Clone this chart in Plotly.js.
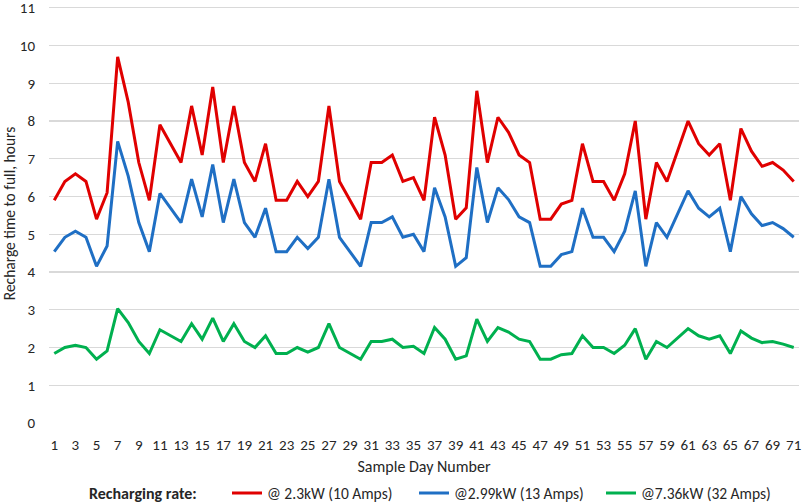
<!DOCTYPE html>
<html>
<head>
<meta charset="utf-8">
<script src="https://cdn.plot.ly/plotly-3.0.1.min.js"></script>
<style>
html,body{margin:0;padding:0;background:#fff;}
#chart{width:803px;height:503px;}
</style>
</head>
<body>
<div id="chart"></div>
<script>
const days = Array.from({length: 71}, (_, i) => i + 1);
const tickLabels = days.filter(d => d % 2 === 1);

const legendTitle = 'Recharging rate:';
const seriesNames = ['@ 2.3kW (10 Amps)', '@2.99kW (13 Amps)', '@7.36kW (32 Amps)'];
const seriesColors = ['#E00000', '#1F6FC4', '#00B04F'];

const rate10A = [5.9,6.4,6.6,6.4,5.4,6.1,9.7,8.5,6.9,5.9,
  7.9,7.4,6.9,8.4,7.1,8.9,6.9,8.4,6.9,6.4,
  7.4,5.9,5.9,6.4,6.0,6.4,8.4,6.4,5.9,5.4,
  6.9,6.9,7.1,6.4,6.5,5.9,8.1,7.1,5.4,5.7,
  8.8,6.9,8.1,7.7,7.1,6.9,5.4,5.4,5.8,5.9,
  7.4,6.4,6.4,5.9,6.6,8.0,5.4,6.9,6.4,7.2,
  8.0,7.4,7.1,7.4,5.9,7.8,7.2,6.8,6.9,6.7,
  6.4];

const rate13A = [4.54,4.92,5.08,4.92,4.15,4.69,7.46,6.54,5.31,4.54,
  6.08,5.69,5.31,6.46,5.46,6.85,5.31,6.46,5.31,4.92,
  5.69,4.54,4.54,4.92,4.62,4.92,6.46,4.92,4.54,4.15,
  5.31,5.31,5.46,4.92,5.00,4.54,6.23,5.46,4.15,4.38,
  6.77,5.31,6.23,5.92,5.46,5.31,4.15,4.15,4.46,4.54,
  5.69,4.92,4.92,4.54,5.08,6.15,4.15,5.31,4.92,5.54,
  6.15,5.69,5.46,5.69,4.54,6.00,5.54,5.23,5.31,5.15,
  4.92];

const rate32A = [1.84,2.00,2.06,2.00,1.69,1.91,3.03,2.66,2.16,1.84,
  2.47,2.31,2.16,2.63,2.22,2.78,2.16,2.63,2.16,2.00,
  2.31,1.84,1.84,2.00,1.88,2.00,2.63,2.00,1.84,1.69,
  2.16,2.16,2.22,2.00,2.03,1.84,2.53,2.22,1.69,1.78,
  2.75,2.16,2.53,2.41,2.22,2.16,1.69,1.69,1.81,1.84,
  2.31,2.00,2.00,1.84,2.06,2.50,1.69,2.16,2.00,2.25,
  2.50,2.31,2.22,2.31,1.84,2.44,2.25,2.13,2.16,2.09,
  2.00];

const yTicks = [0,1,2,3,4,5,6,7,8,9,10,11];

const FONT = "Carlito, Calibri, Lato, sans-serif";
const TXT = '#262626';
const allSeries = [rate10A, rate13A, rate32A];

const traces = allSeries.map((vals, i) => ({
  x: days,
  y: vals,
  type: 'scatter',
  mode: 'lines',
  name: seriesNames[i],
  line: {color: seriesColors[i], width: 3}
}));

const W = 803, H = 503;
const M = {l: 49, r: 4, t: 4.2, b: 80.3, autoexpand: false};
const plotW = W - M.l - M.r, plotH = H - M.t - M.b;
const px2paperX = px => (px - M.l) / plotW;
const px2paperY = py => (H - M.b - py) / plotH;

const layout = {
  width: W,
  height: H,
  margin: M,
  paper_bgcolor: '#fff',
  plot_bgcolor: '#fff',
  font: {family: FONT, color: TXT, size: 15},
  showlegend: true,
  xaxis: {
    range: [0.5, 71.5],
    tickmode: 'array',
    tickvals: tickLabels,
    ticktext: tickLabels.map(String),
    showgrid: false,
    zeroline: false,
    showline: false,
    ticks: '',
    ticklabelstandoff: 11,
    tickfont: {family: FONT, size: 15, color: TXT},
    title: {text: 'Sample Day Number', font: {family: FONT, size: 16, color: TXT}, standoff: 7},
    fixedrange: true
  },
  yaxis: {
    range: [0, 11.1],
    tickmode: 'array',
    tickvals: yTicks,
    ticktext: yTicks.map(String),
    showgrid: true,
    gridcolor: '#D9D9D9',
    gridwidth: 1.4,
    zeroline: false,
    showline: false,
    ticks: '',
    ticklabelstandoff: 13,
    ticklabeloverflow: 'allow',
    tickfont: {family: FONT, size: 15, color: TXT},
    title: {text: 'Recharge time to full, hours', font: {family: FONT, size: 15.5, color: TXT}, standoff: 12},
    fixedrange: true
  },
  legend: {
    orientation: 'h',
    x: px2paperX(227),
    xanchor: 'left',
    y: px2paperY(493),
    yanchor: 'middle',
    font: {family: FONT, size: 15.5, color: TXT},
    traceorder: 'normal',
    itemwidth: 30,
    entrywidth: 142,
    entrywidthmode: 'pixels'
  },
  annotations: [{
    text: '<b>' + legendTitle + '</b>',
    xref: 'paper', yref: 'paper',
    x: px2paperX(87), y: px2paperY(493),
    xanchor: 'left', yanchor: 'middle',
    showarrow: false,
    font: {family: FONT, size: 16, color: TXT}
  }]
};

Plotly.newPlot('chart', traces, layout, {staticPlot: true, displayModeBar: false});
</script>
</body>
</html>
